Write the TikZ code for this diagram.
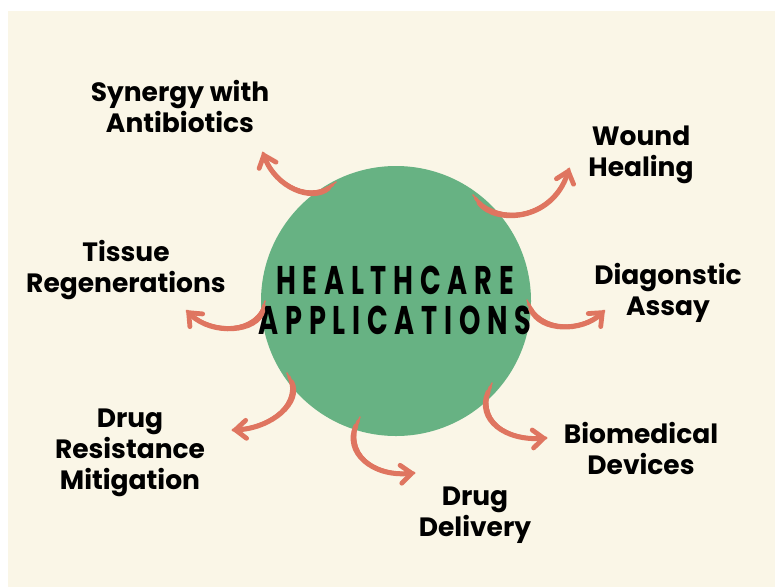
\documentclass[tikz,border=0pt]{standalone}
\usepackage{fontspec}
\setmainfont{Poppins}
\usetikzlibrary{arrows.meta}
\definecolor{cream}{HTML}{FAF6E7}
\definecolor{hgreen}{HTML}{67B283}
\definecolor{salmon}{HTML}{DF7560}
\tikzset{
  lbl/.style={font=\fontsize{26.5}{31}\selectfont\bfseries, align=center, text=black, inner sep=0pt},
  ttl/.style={font=\fontsize{40}{36}\selectfont\bfseries, align=center, text=black, inner sep=0pt},
  arrbase/.style={draw=salmon, line cap=round},
}
\newcommand{\tapered}[1]{%
  \draw[arrbase, line width=1.6pt] #1;
  \draw[arrbase, line width=3.2pt, shorten <=4pt] #1;
  \draw[arrbase, line width=5pt, shorten <=10pt,
    -{Straight Barb[angle=80:14pt, line width=4.8pt, round]}] #1;
}
\begin{document}
\begin{tikzpicture}[x=1pt, y=-1pt]
\useasboundingbox (0,0) rectangle (775,587);
\fill[white] (0,0) rectangle (775,587);
\fill[cream] (8,11) rectangle (775,587);
\node[circle, fill=hgreen, minimum size=270pt, inner sep=0pt] (hub) at (396,301) {};
\node[ttl] (title) at (395,300) {\scalebox{0.68}[1]{\addfontfeature{LetterSpace=25}HEALTHCARE}\\[4pt]\scalebox{0.68}[1]{\addfontfeature{LetterSpace=25}APPLICATIONS}};

\node[lbl] (syn) at (180,106) {Synergy with\\Antibiotics};
\node[lbl] (wou) at (641,155) {Wound\\Healing};
\node[lbl] (tis) at (126,270) {Tissue\\Regenerations};
\node[lbl] (dia) at (668,293) {Diagonstic\\Assay};
\node[lbl] (dru) at (130,453) {Drug\\Resistance\\Mitigation};
\node[lbl] (bio) at (641,448) {Biomedical\\Devices};
\node[lbl] (del) at (475,515) {Drug\\Delivery};

\coordinate (a1) at (336,182); \coordinate (b1) at (263,153);
\coordinate (a2) at (473,195); \coordinate (b2) at (569,169);
\coordinate (a3) at (265,301); \coordinate (b3) at (187,311);
\coordinate (a4) at (527,300); \coordinate (b4) at (604,311);
\coordinate (a5) at (287,373); \coordinate (b5) at (233,430);
\coordinate (a6) at (360,417); \coordinate (b6) at (414,473);
\coordinate (a7) at (492,383); \coordinate (b7) at (546,438);

\tapered{(a1) .. controls (312,202) and (276,188) .. (b1)}
\tapered{(a2) .. controls (495,224) and (552,222) .. (b2)}
\tapered{(a3) .. controls (258,332) and (212,336) .. (b3)}
\tapered{(a4) .. controls (540,332) and (582,332) .. (b4)}
\tapered{(a5) .. controls (302,402) and (272,428) .. (b5)}
\tapered{(a6) .. controls (344,452) and (372,477) .. (b6)}
\tapered{(a7) .. controls (476,420) and (506,441) .. (b7)}
\end{tikzpicture}
\end{document}
